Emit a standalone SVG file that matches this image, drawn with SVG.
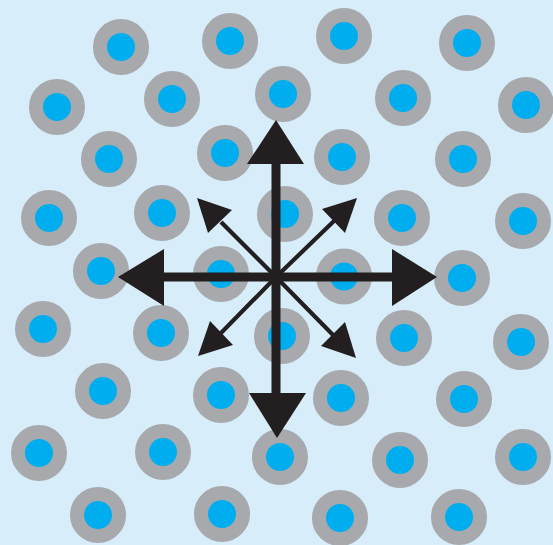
<svg xmlns="http://www.w3.org/2000/svg" width="553" height="545" viewBox="0 0 553 545">
<style>
.site{fill:#00aeef;stroke:#a7a9ac;stroke-width:14}
.shaft{stroke:#231f20;stroke-linecap:butt;fill:none}
.main{stroke-width:9}
.diag{stroke-width:4.2}
.head{fill:#231f20}
</style>
<rect x="0" y="0" width="553" height="545" fill="#d7eefa"/>
<g id="sites">
<g id="n1"><circle class="site" cx="121" cy="47" r="21"/></g>
<g id="n2"><circle class="site" cx="230" cy="41" r="21"/></g>
<g id="n3"><circle class="site" cx="344" cy="36" r="21"/></g>
<g id="n4"><circle class="site" cx="467" cy="43" r="21"/></g>
<g id="n5"><circle class="site" cx="57" cy="107" r="21"/></g>
<g id="n6"><circle class="site" cx="172" cy="99" r="21"/></g>
<g id="n7"><circle class="site" cx="283" cy="94" r="21"/></g>
<g id="n8"><circle class="site" cx="403" cy="98" r="21"/></g>
<g id="n9"><circle class="site" cx="526" cy="105" r="21"/></g>
<g id="n10"><circle class="site" cx="109" cy="159" r="21"/></g>
<g id="n11"><circle class="site" cx="225" cy="153" r="21"/></g>
<g id="n12"><circle class="site" cx="342" cy="157" r="21"/></g>
<g id="n13"><circle class="site" cx="463" cy="159" r="21"/></g>
<g id="n14"><circle class="site" cx="49" cy="218" r="21"/></g>
<g id="n15"><circle class="site" cx="162" cy="213" r="21"/></g>
<g id="n16"><circle class="site" cx="285" cy="214" r="21"/></g>
<g id="n17"><circle class="site" cx="402" cy="218" r="21"/></g>
<g id="n18"><circle class="site" cx="523" cy="221" r="21"/></g>
<g id="n19"><circle class="site" cx="101" cy="271" r="21"/></g>
<g id="n20"><circle class="site" cx="221" cy="274" r="21"/></g>
<g id="n21"><circle class="site" cx="344" cy="276.5" r="21"/></g>
<g id="n22"><circle class="site" cx="462" cy="278" r="21"/></g>
<g id="n23"><circle class="site" cx="43" cy="329" r="21"/></g>
<g id="n24"><circle class="site" cx="161" cy="333" r="21"/></g>
<g id="n25"><circle class="site" cx="282" cy="336" r="21"/></g>
<g id="n26"><circle class="site" cx="404" cy="338" r="21"/></g>
<g id="n27"><circle class="site" cx="521" cy="342" r="21"/></g>
<g id="n28"><circle class="site" cx="103" cy="391" r="21"/></g>
<g id="n29"><circle class="site" cx="221" cy="395" r="21"/></g>
<g id="n30"><circle class="site" cx="341" cy="398" r="21"/></g>
<g id="n31"><circle class="site" cx="464" cy="399" r="21"/></g>
<g id="n32"><circle class="site" cx="39" cy="453" r="21"/></g>
<g id="n33"><circle class="site" cx="163" cy="452" r="21"/></g>
<g id="n34"><circle class="site" cx="280" cy="457" r="21"/></g>
<g id="n35"><circle class="site" cx="400" cy="460" r="21"/></g>
<g id="n36"><circle class="site" cx="523" cy="457" r="21"/></g>
<g id="n37"><circle class="site" cx="98" cy="515" r="21"/></g>
<g id="n38"><circle class="site" cx="222" cy="514" r="21"/></g>
<g id="n39"><circle class="site" cx="340" cy="518" r="21"/></g>
<g id="n40"><circle class="site" cx="459" cy="517" r="21"/></g>
</g>
<g id="connectors">
<line class="shaft main" x1="276" y1="395" x2="276" y2="162"/>
<line class="shaft main" x1="392" y1="277" x2="162" y2="277"/>
<polygon class="head" points="276,120 247,164 304,164"/>
<polygon class="head" points="277,438 249,393 306,393"/>
<polygon class="head" points="118,277 164,249 164,306"/>
<polygon class="head" points="437,277 392,249 392,306"/>
<line class="shaft diag" x1="276" y1="277" x2="221" y2="222"/>
<line class="shaft diag" x1="276" y1="277" x2="334" y2="221"/>
<line class="shaft diag" x1="276" y1="277" x2="220" y2="334"/>
<line class="shaft diag" x1="276" y1="277" x2="334" y2="336"/>
<polygon class="head" points="197,198 232,210 208,233"/>
<polygon class="head" points="357,198 345,233 322,209"/>
<polygon class="head" points="198,356 210,321 233,345"/>
<polygon class="head" points="356,358 321,346 345,322"/>
</g>
</svg>
